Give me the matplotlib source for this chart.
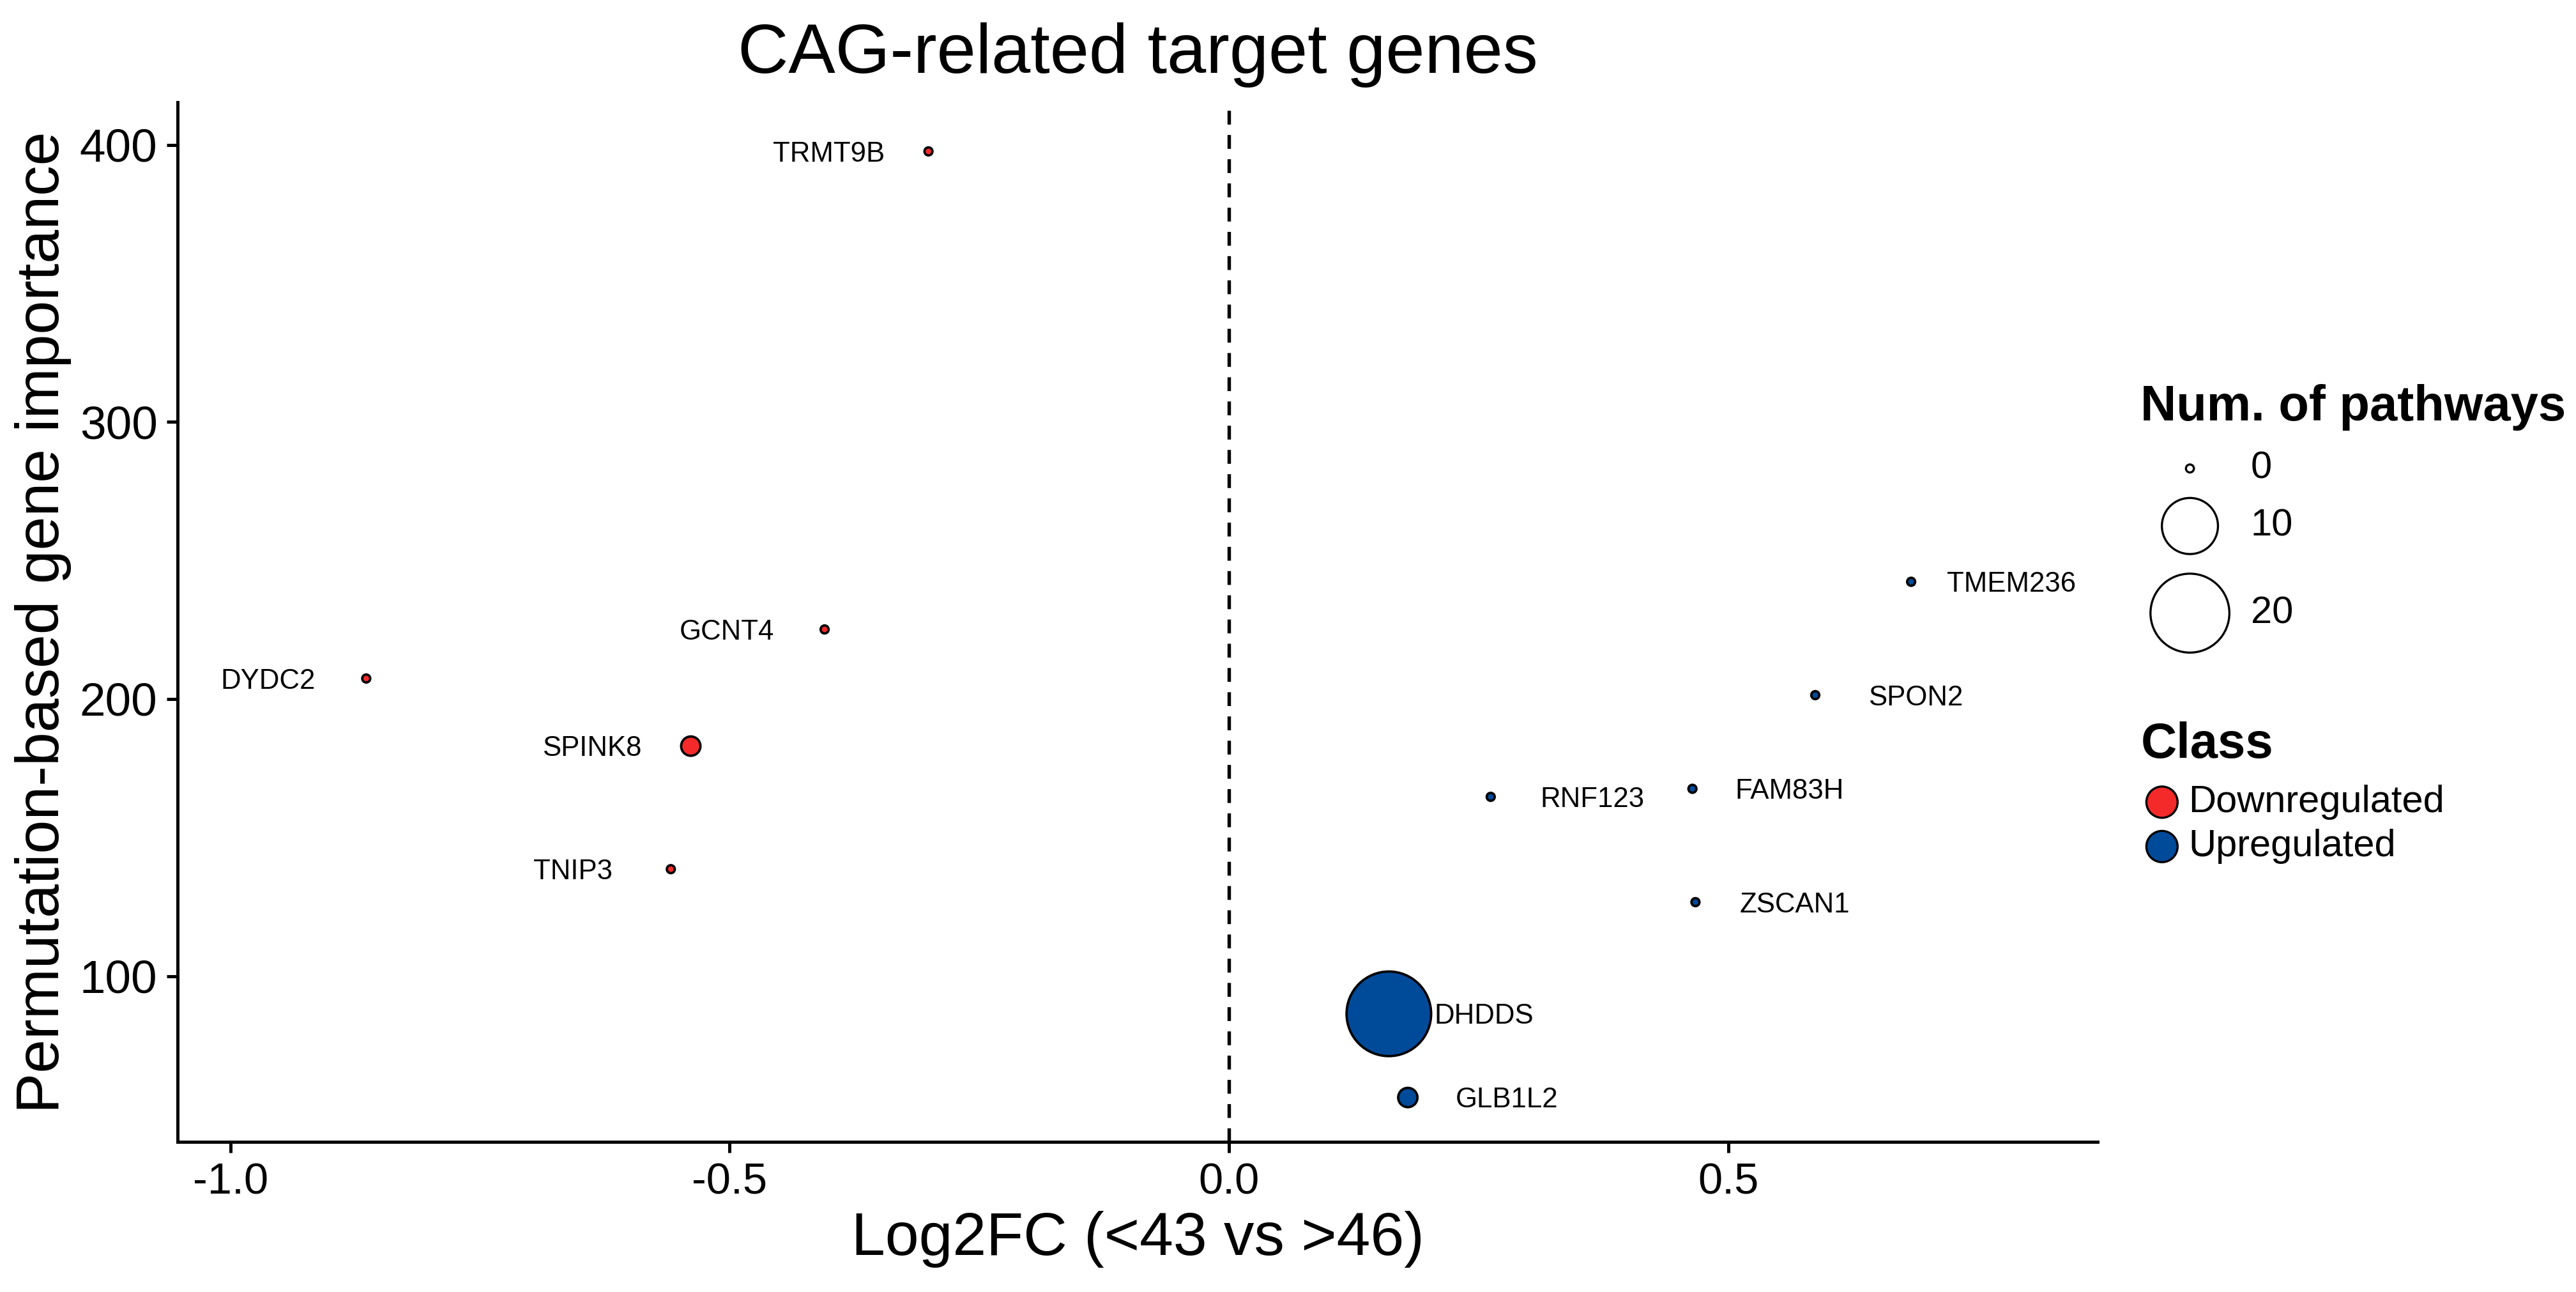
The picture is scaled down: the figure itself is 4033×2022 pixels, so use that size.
import matplotlib
matplotlib.use("Agg")
import matplotlib.pyplot as plt
import numpy as np

plt.rcParams['font.family'] = ['Liberation Sans', 'DejaVu Sans']

# ---- data ----
genes = ["TRMT9B", "GCNT4", "DYDC2", "SPINK8", "TNIP3",
         "TMEM236", "SPON2", "RNF123", "FAM83H", "ZSCAN1", "DHDDS", "GLB1L2"]
log2fc = [-0.301, -0.405, -0.864, -0.539, -0.559,
          0.683, 0.587, 0.262, 0.464, 0.467, 0.160, 0.179]
importance = [397.6, 225.1, 207.4, 183.0, 138.6,
              242.3, 201.4, 164.7, 167.6, 126.7, 86.4, 56.2]
n_pathways = [0, 0, 0, 1, 0, 0, 0, 0, 0, 0, 23, 1]
gene_class = ["Downregulated"] * 5 + ["Upregulated"] * 7

class_names = ["Downregulated", "Upregulated"]
class_colors = {"Downregulated": "#F42A2A", "Upregulated": "#004A9A"}
size_breaks = [0, 10, 20]
x_ticks = [-1.0, -0.5, 0.0, 0.5]
y_ticks = [100, 200, 300, 400]

# label offsets (points): left side labels right-aligned, right side left-aligned
label_dx = {"TRMT9B": -16.5, "GCNT4": -19, "DYDC2": -19, "SPINK8": -18.5, "TNIP3": -22,
            "TMEM236": 13.5, "SPON2": 20, "RNF123": 18.5, "FAM83H": 16, "ZSCAN1": 16.5,
            "DHDDS": 17, "GLB1L2": 18}


def size_of(v):
    return 9 + 43.5 * np.asarray(v, dtype=float)


W, H, DPI = 4033, 2022, 300
fig = plt.figure(figsize=(W / DPI, H / DPI), dpi=DPI)
ax = fig.add_axes([0.0689, 0.116, 0.8144 - 0.0689, 0.921 - 0.116])

cols = [class_colors[c] for c in gene_class]
ax.scatter(log2fc, importance, s=size_of(n_pathways), c=cols,
           edgecolors="black", linewidths=0.9, zorder=3)

for g, x, y in zip(genes, log2fc, importance):
    dx = label_dx[g]
    ax.annotate(g, (x, y), xytext=(dx, -1), textcoords="offset points",
                ha="right" if dx < 0 else "left", va="center", fontsize=10.5, zorder=4)

ax.axvline(0, color="black", linestyle=(0, (4, 3)), linewidth=1.3, zorder=1)

ax.set_xlim(-1.053, 0.870)
ax.set_ylim(40.1, 415.4)
ax.set_xticks(x_ticks)
ax.set_xticklabels([f"{t:.1f}" for t in x_ticks])
ax.set_yticks(y_ticks)
for s in ["top", "right"]:
    ax.spines[s].set_visible(False)
for s in ["left", "bottom"]:
    ax.spines[s].set_linewidth(1.2)
ax.tick_params(axis="both", length=4, width=1.2, color="black", labelcolor="black")
ax.tick_params(axis="x", labelsize=16.5)
ax.tick_params(axis="y", labelsize=17.5)
ax.set_xlabel("Log2FC (<43 vs >46)", fontsize=22.8, labelpad=3)
ax.set_ylabel("Permutation-based gene importance", fontsize=22.8, labelpad=3)
ax.set_title("CAG-related target genes", fontsize=26.4, pad=11)

# ---- manual legends, in display-pixel layout coordinates of a 1568x786 frame ----
lg = fig.add_axes([0, 0, 1, 1], facecolor="none")
lg.set_xlim(0, 1568)
lg.set_ylim(786, 0)
lg.axis("off")

lg.text(1303, 248, "Num. of pathways", fontsize=18.7, fontweight="bold", va="center", ha="left")
size_rows = [285, 320, 373]
lg.scatter([1333] * len(size_breaks), size_rows, s=size_of(size_breaks),
           facecolors="white", edgecolors="black", linewidths=0.8)
for b, yy in zip(size_breaks, size_rows):
    lg.text(1370, yy, str(b), fontsize=14.3, va="center", ha="left")

lg.text(1303, 453, "Class", fontsize=18.7, fontweight="bold", va="center", ha="left")
class_rows = [488, 515]
lg.scatter([1316] * len(class_names), class_rows, s=138,
           c=[class_colors[c] for c in class_names], edgecolors="black", linewidths=0.8)
for c, yy in zip(class_names, class_rows):
    lg.text(1332, yy, c, fontsize=14.3, va="center", ha="left")

fig.savefig("out.png", dpi=DPI)
